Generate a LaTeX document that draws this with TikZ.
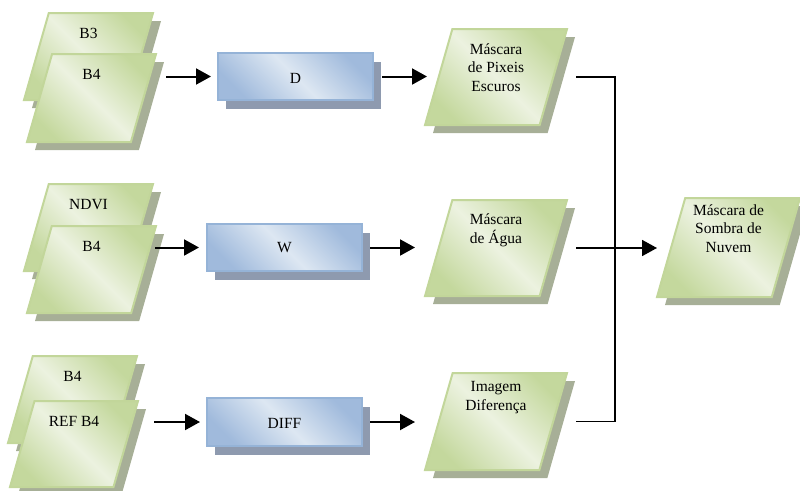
\documentclass[tikz,border=0pt]{standalone}
\usepackage{fontspec}
\setmainfont{Liberation Serif}
\usetikzlibrary{shadows,arrows.meta}
\definecolor{gB}{HTML}{C2D69A}
\definecolor{gD}{HTML}{C4D89D}
\definecolor{gL}{HTML}{ECF2E0}
\definecolor{gS}{HTML}{A7AF97}
\definecolor{bB}{HTML}{95B3D7}
\definecolor{bD}{HTML}{A0BADC}
\definecolor{bL}{HTML}{DDE7F2}
\definecolor{bS}{HTML}{8E9AAF}
\tikzset{
  txt/.style={font=\fontsize{15.5}{18.5}\selectfont, align=center, inner sep=0pt, anchor=base},
  ghost/.style={rectangle, inner sep=0pt, outer sep=0pt},
  parafill/.style={draw=gB, line width=2pt, line join=miter,
    top color=gD, bottom color=gD, middle color=gL, shading angle=-45,
    drop shadow={shadow xshift=8pt, shadow yshift=-8pt, opacity=1, fill=gS}},
  proc/.style={rectangle, inner sep=0pt, outer sep=0pt, minimum width=155pt, minimum height=47pt,
    draw=bB, line width=2pt, top color=bD, bottom color=bD, middle color=bL, shading angle=-45,
    drop shadow={shadow xshift=8pt, shadow yshift=-8.5pt, opacity=1, fill=bS}},
  arr/.style={line width=2pt, -{Triangle[length=15pt,width=16pt]}},
  conn/.style={line width=1.8pt},
}
% name, cx, cy, width, height, drop of last baseline, text
\newcommand\mkpara[7]{%
  \node[ghost, minimum width=#4pt, minimum height=#5pt] (#1) at (#2,#3) {};
  \pgfmathsetlengthmacro\slnt{0.285*#5}%
  \path[parafill] (#1.south west) -- ([xshift=-\slnt]#1.south east) -- (#1.north east)
     -- ([xshift=\slnt]#1.north west) -- cycle;
  \node[txt] (#1t) at ([yshift=-#6pt]#1.north) {#7};
}
\begin{document}
\begin{tikzpicture}[x=1pt, y=-1pt]
\useasboundingbox (0,0) rectangle (800,490);
% inputs
\mkpara{b3}{88.5}{56.5}{129}{87}{25}{B3}
\mkpara{b4a}{91.5}{98}{129}{88}{25}{B4}
\mkpara{ndvi}{88.5}{227.5}{129}{87}{25}{NDVI}
\mkpara{b4b}{91.5}{269.5}{129}{87}{25}{B4}
\mkpara{b4c}{72.5}{399.5}{129}{87}{25}{B4}
\mkpara{refb4}{74}{444}{128}{86}{25}{REF B4}
% processes
\node[proc, label={[txt, yshift=-1.5pt]center:D}] (d) at (295.5,76.5) {};
\node[proc, label={[txt, yshift=-0.5pt]center:W}] (w) at (284.5,247.5) {};
\node[proc, minimum height=48pt, label={[txt, yshift=-1pt]center:DIFF}] (diff) at (284.5,422) {};
% outputs
\mkpara{m1}{496}{77}{142}{96}{62}{Máscara\\de Pixeis\\Escuros}
\mkpara{ag}{496}{248}{142}{96}{43}{Máscara\\de Água}
\mkpara{im}{496}{421.5}{142}{97}{37}{Imagem\\Diferença}
\mkpara{fin}{728.5}{247.5}{143}{99}{54}{Máscara de\\Sombra de\\Nuvem}
\coordinate (j) at (615,248);
% arrows
\draw[arr, shorten <=74.5pt, shorten >=7pt] (b4a.center |- d.west) -- (d.west);
\draw[arr, shorten <=63.5pt, shorten >=8pt] (b4b.center |- w.west) -- (w.west);
\draw[arr, shorten <=80pt, shorten >=7pt] (refb4.center |- diff.west) -- (diff.west);
\draw[arr, shorten <=9pt, shorten >=69pt] (d.east) -- (d.east -| m1.center);
\draw[arr, shorten <=8pt, shorten >=81pt] (w.east) -- (w.east -| ag.center);
\draw[arr, shorten <=8pt, shorten >=81pt] (diff.east) -- (diff.east -| im.center);
\draw[conn, shorten <=80pt] (m1.center) -| (j);
\draw[conn, shorten <=80pt] (im.center) -| (j);
\draw[arr, line width=1.8pt, shorten <=80pt, shorten >=71.5pt] (ag.center) -- (ag.center -| fin.center);
\end{tikzpicture}
\end{document}
